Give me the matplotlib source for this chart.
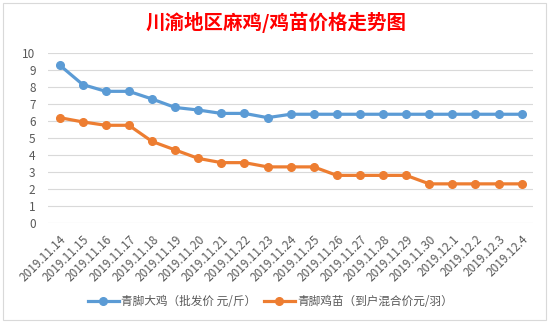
import matplotlib.pyplot as plt
import matplotlib
from matplotlib.patches import Rectangle

matplotlib.rcParams['font.family'] = ['Noto Sans CJK SC', 'DejaVu Sans']

dates = ['2019.11.14', '2019.11.15', '2019.11.16', '2019.11.17', '2019.11.18',
         '2019.11.19', '2019.11.20', '2019.11.21', '2019.11.22', '2019.11.23',
         '2019.11.24', '2019.11.25', '2019.11.26', '2019.11.27', '2019.11.28',
         '2019.11.29', '2019.11.30', '2019.12.1', '2019.12.2', '2019.12.3',
         '2019.12.4']
adult = [9.3, 8.15, 7.75, 7.75, 7.3, 6.8, 6.65, 6.45, 6.45, 6.2, 6.4,
         6.4, 6.4, 6.4, 6.4, 6.4, 6.4, 6.4, 6.4, 6.4, 6.4]
chick = [6.2, 5.95, 5.75, 5.75, 4.8, 4.3, 3.8, 3.55, 3.55, 3.3, 3.3,
         3.3, 2.8, 2.8, 2.8, 2.8, 2.3, 2.3, 2.3, 2.3, 2.3]
names = ['青脚大鸡（批发价 元/斤）', '青脚鸡苗（到户混合价元/羽）']

fig = plt.figure(figsize=(5.52, 3.24), dpi=100)
fig.patches.append(Rectangle((0.006, 0.012), 0.984, 0.978, transform=fig.transFigure,
                             fill=False, edgecolor='#d9d9d9', linewidth=0.8))
ax = fig.add_axes([0.087, 0.312, 0.879, 0.524])

x = list(range(len(dates)))
ax.plot(x, adult, color='#5B9BD5', linewidth=2.3, marker='o', markersize=5.5, label=names[0])
ax.plot(x, chick, color='#ED7D31', linewidth=2.3, marker='o', markersize=5.5, label=names[1])

ax.set_xlim(-0.5, len(dates) - 0.5)
ax.set_ylim(0, 10)
ax.set_yticks(range(0, 11))
ax.yaxis.grid(True, color='#d9d9d9', linewidth=0.8)
ax.set_axisbelow(True)
for s in ax.spines.values():
    s.set_visible(False)
ax.tick_params(axis='both', length=0, labelsize=8.5, colors='#595959')
ax.tick_params(axis='y', pad=9)
ax.set_xticks(x)
ax.set_xticklabels(dates, rotation=45, ha='right', rotation_mode='anchor')
ax.tick_params(axis='x', pad=7)

fig.text(0.5, 0.93, '川渝地区麻鸡/鸡苗价格走势图', color='#FF0000', fontsize=14,
         fontweight='bold', ha='center', va='center')
fig.legend(loc='center', bbox_to_anchor=(0.49, 0.07), ncol=2, frameon=False,
           fontsize=8.4, labelcolor='#595959', handlelength=2.6, columnspacing=0.7,
           handletextpad=0.2)

plt.savefig('out.png', dpi=100)
